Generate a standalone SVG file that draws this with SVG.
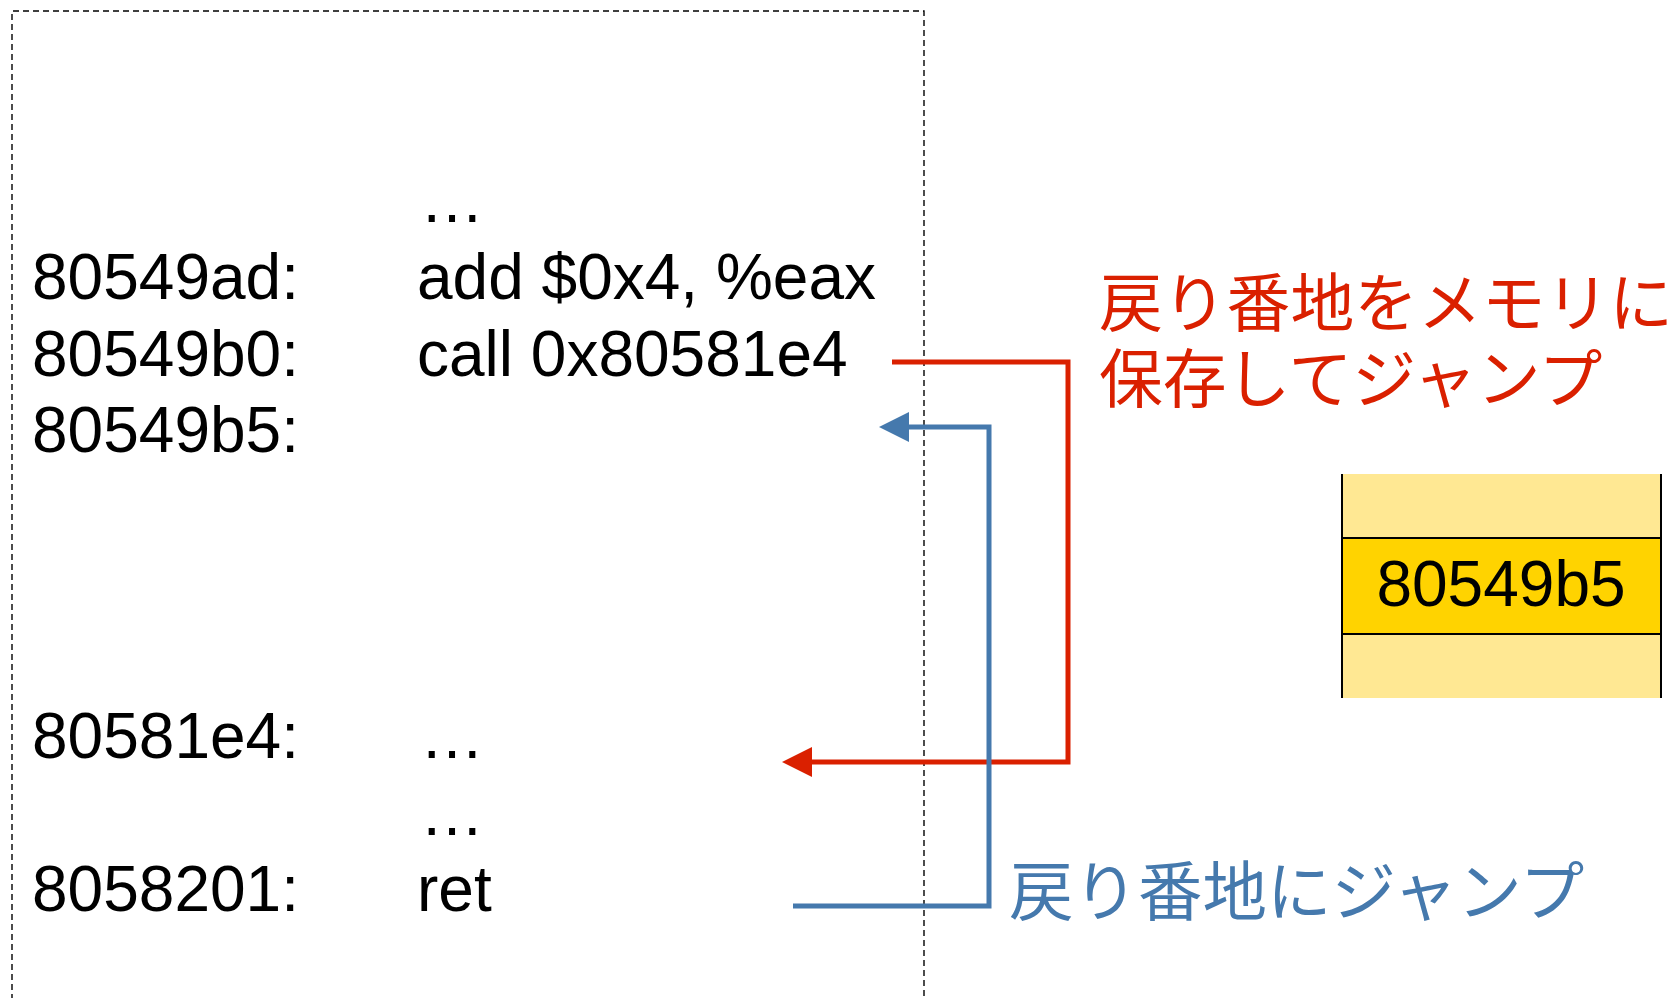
<svg xmlns="http://www.w3.org/2000/svg" width="1675" height="998" viewBox="0 0 1675 998">
<style>
.code{font-family:"Liberation Sans",Arial,sans-serif;font-size:64px;fill:#000}
.jp{font-family:"Noto Sans CJK JP","Liberation Sans",sans-serif;font-size:64.5px}
.jpr{font-family:"Noto Sans CJK JP","Liberation Sans",sans-serif;font-size:63.8px}
.red{fill:#DA2000}
.blue{fill:#4579AD}
</style>
<defs>
<marker id="ahRed" viewBox="0 0 30 30" refX="0" refY="15" markerWidth="30" markerHeight="30" markerUnits="userSpaceOnUse" orient="auto">
<path d="M0,0 L30,15 L0,30 Z" fill="#DA2000"/>
</marker>
<marker id="ahBlue" viewBox="0 0 30 30" refX="0" refY="15" markerWidth="30" markerHeight="30" markerUnits="userSpaceOnUse" orient="auto">
<path d="M0,0 L30,15 L0,30 Z" fill="#4579AD"/>
</marker>
</defs>
<rect width="1675" height="998" fill="#fff"/>
<g id="memory">
<path d="M12,1000 V11 H924 V1000" fill="none" stroke="#000" stroke-width="1.4" stroke-dasharray="6 4"/>
<text class="code" x="420" y="222">…</text>
<text class="code" x="32" y="299">80549ad:</text>
<text class="code" x="417" y="299">add $0x4, %eax</text>
<text class="code" x="32" y="376">80549b0:</text>
<text class="code" x="417" y="376">call 0x80581e4</text>
<text class="code" x="32" y="452">80549b5:</text>
<text class="code" x="32" y="758">80581e4:</text>
<text class="code" x="420" y="758">…</text>
<text class="code" x="420" y="835">…</text>
<text class="code" x="32" y="911">8058201:</text>
<text class="code" x="417" y="911">ret</text>
</g>
<g id="stack">
<rect x="1342" y="474" width="319" height="224" fill="#FFE893"/>
<rect x="1342" y="538" width="319" height="96" fill="#FFD300"/>
<line x1="1342" y1="474" x2="1342" y2="698" stroke="#000" stroke-width="2"/>
<line x1="1661" y1="474" x2="1661" y2="698" stroke="#000" stroke-width="2"/>
<line x1="1342" y1="538" x2="1661" y2="538" stroke="#000" stroke-width="2"/>
<line x1="1342" y1="634" x2="1661" y2="634" stroke="#000" stroke-width="2"/>
<text class="code" x="1501" y="606" text-anchor="middle">80549b5</text>
</g>
<g id="label-call">
<text class="jpr red" x="1099" y="326">戻り番地をメモリに</text>
<text class="jpr red" x="1099" y="402">保存してジャンプ</text>
</g>
<g id="label-ret">
<text class="jp blue" x="1009" y="915">戻り番地にジャンプ</text>
</g>
<g id="connectors" fill="none" stroke-width="5" stroke-linejoin="miter">
<path d="M892,362 H1068 V762 H812" stroke="#DA2000" marker-end="url(#ahRed)"/>
<path d="M793,906 H989 V427 H909" stroke="#4579AD" marker-end="url(#ahBlue)"/>
</g>
</svg>
